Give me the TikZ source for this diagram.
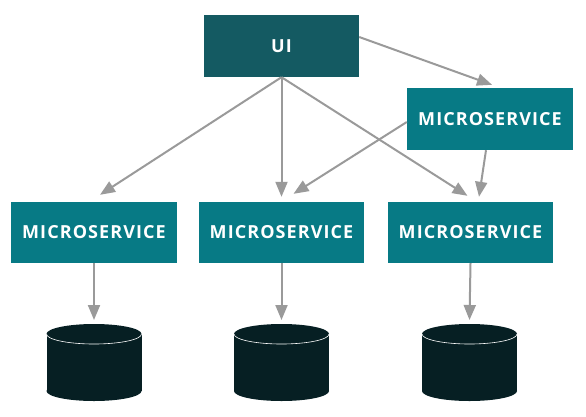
\documentclass[tikz,border=0pt]{standalone}
\usepackage{fontspec}
\setmainfont{Open Sans}[LetterSpace=6]
\usetikzlibrary{arrows.meta}
\definecolor{uicol}{HTML}{145A62}
\definecolor{mscol}{HTML}{077A85}
\definecolor{dbcol}{HTML}{061F23}
\definecolor{arrcol}{HTML}{9A9A9A}
\tikzset{
  box/.style={rectangle, inner sep=0pt, text=white, font=\fontsize{18}{21}\selectfont\bfseries},
  ms/.style={box, fill=mscol, minimum width=166pt, minimum height=61pt},
  arr/.style={draw=arrcol, line width=2pt, -{Triangle[length=15pt,width=12pt]}},
}
\begin{document}
\begin{tikzpicture}[x=1pt,y=-1pt]
\useasboundingbox (0,0) rectangle (586,416);
\node[box, fill=uicol, minimum width=155pt, minimum height=62pt] (UI) at (281.5,46) {UI};
\node[ms, minimum height=62pt] (TR) at (490,119) {MICROSERVICE};
\node[ms] (B1) at (94,232.5) {MICROSERVICE};
\node[ms, minimum width=165pt] (B2) at (281.5,232.5) {MICROSERVICE};
\node[ms, minimum width=165pt] (B3) at (470.5,232.5) {MICROSERVICE};
\foreach \i/\cx in {1/94,2/281.5,3/469.5}{
  \fill[dbcol] (\cx-47.5,334) rectangle (\cx+47.5,391);
  \fill[dbcol] (\cx,391) ellipse [x radius=47.5, y radius=10];
  \fill[dbcol] (\cx,334) ellipse [x radius=47.5, y radius=10];
  \begin{scope}
    \clip (\cx-50,334) rectangle (\cx+50,350);
    \draw[white, line width=0.6pt] (\cx,334) ellipse [x radius=47.5, y radius=10];
  \end{scope}
  \coordinate (D\i) at (\cx,324);
}
\draw[arr] (UI.south) -- ([xshift=6pt,yshift=7pt]B1.north);
\draw[arr] (UI.south) -- ([yshift=5pt]B2.north);
\draw[arr] (UI.south) -- ([xshift=-3pt,yshift=6pt]B3.north);
\draw[arr] ([yshift=9pt]UI.east) -- ([xshift=2pt,yshift=3pt]TR.north);
\draw[arr] ([yshift=-3pt]TR.west) -- ([xshift=12pt,yshift=8pt]B2.north);
\draw[arr] ([xshift=-4pt]TR.south) -- ([xshift=8.5pt,yshift=5pt]B3.north);
\draw[arr] (B1.south) -- ([yshift=4pt]D1);
\draw[arr] (B2.south) -- ([yshift=4pt]D2);
\draw[arr] (B3.south) -- ([yshift=4pt]D3);
\end{tikzpicture}
\end{document}
